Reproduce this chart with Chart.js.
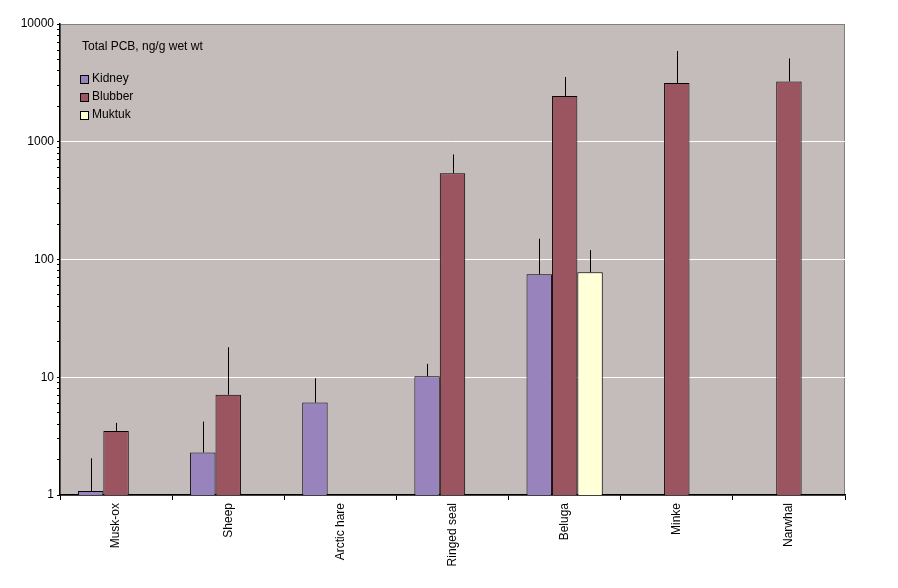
<!DOCTYPE html>
<html>
<head>
<meta charset="utf-8">
<script src="https://cdn.jsdelivr.net/npm/chart.js@4"></script>
<style>
  body { margin: 0; background: #fff; }
  #wrap { width: 898px; height: 588px; }
</style>
</head>
<body>
<div id="wrap"><canvas id="c"></canvas></div>
<script>
// Data
const categories = ['Musk-ox', 'Sheep', 'Arctic hare', 'Ringed seal', 'Beluga', 'Minke', 'Narwhal'];
const kidney = [1.08, 2.3, 6.1, 10.2, 75, null, null];
const kidneyHigh = [2.05, 4.2, 9.8, 13, 150, null, null];
const blubber = [3.5, 7.1, null, 540, 2450, 3150, 3250];
const blubberHigh = [4.1, 18, null, 780, 3550, 5900, 5100];
const muktuk = [null, null, null, null, 78, null, null];
const muktukHigh = [null, null, null, null, 120, null, null];
const majorTicks = [1, 10, 100, 1000, 10000];

const FONT = '"Liberation Sans", Arial, sans-serif';

// Upper error bars drawn through the scales
const errorBars = {
    id: 'errorBars',
    afterDatasetsDraw(chart) {
        const { ctx, scales: { y } } = chart;
        const highs = [kidneyHigh, blubberHigh, muktukHigh];
        ctx.save();
        ctx.strokeStyle = '#000';
        ctx.lineWidth = 1;
        chart.data.datasets.forEach((ds, i) => {
            chart.getDatasetMeta(i).data.forEach((bar, j) => {
                const hi = highs[i][j];
                if (hi == null || ds.data[j] == null) return;
                const x = Math.round(bar.x) + 0.5;
                ctx.beginPath();
                ctx.moveTo(x, bar.y);
                ctx.lineTo(x, y.getPixelForValue(hi));
                ctx.stroke();
            });
        });
        ctx.restore();
    }
};

// Legend inside the plot, top-left
const innerLegend = {
    id: 'innerLegend',
    afterDraw(chart) {
        const { ctx, chartArea } = chart;
        const x0 = chartArea.left + 20;
        ctx.save();
        ctx.font = '12px ' + FONT;
        ctx.fillStyle = '#000';
        ctx.textBaseline = 'middle';
        ctx.fillText('Total PCB, ng/g wet wt', x0 + 2, 47);
        chart.data.datasets.forEach((ds, i) => {
            const yy = 79 + i * 18;
            ctx.fillStyle = ds.backgroundColor;
            ctx.fillRect(x0, yy - 4, 8, 8);
            ctx.strokeStyle = '#000';
            ctx.strokeRect(x0 + 0.5, yy - 3.5, 8, 8);
            ctx.fillStyle = '#000';
            ctx.fillText(ds.label, x0 + 12, yy);
        });
        ctx.restore();
    }
};

const plotBg = {
    id: 'plotBg',
    beforeDraw(chart) {
        const { ctx, chartArea: a } = chart;
        ctx.save();
        ctx.fillStyle = '#C4BCBA';
        ctx.fillRect(a.left, a.top, a.right - a.left, a.bottom - a.top);
        ctx.strokeStyle = '#808080';
        ctx.strokeRect(a.left, a.top + 0.5, a.right - a.left - 0.5, a.bottom - a.top);
        ctx.restore();
    }
};

const mkSet = (label, data, color) => ({
    label, data,
    backgroundColor: color,
    borderColor: '#000',
    borderWidth: 1,
    borderSkipped: 'bottom',
    categoryPercentage: 0.68,
    barPercentage: 1
});

new Chart(document.getElementById('c'), {
    type: 'bar',
    data: {
        labels: categories,
        datasets: [
            mkSet('Kidney', kidney, '#9983BD'),
            mkSet('Blubber', blubber, '#9B5560'),
            mkSet('Muktuk', muktuk, '#FFFFD8')
        ]
    },
    options: {
        responsive: true,
        maintainAspectRatio: false,
        animation: false,
        layout: { padding: { top: 24, right: 53, left: 0, bottom: 0 } },
        plugins: { legend: { display: false }, tooltip: { enabled: false } },
        scales: {
            x: {
                afterFit: s => { s.height = 93; },
                grid: { offset: true, drawOnChartArea: false, color: '#000', tickLength: 5 },
                border: { color: '#000', width: 1.5 },
                ticks: { color: '#000', font: { family: FONT, size: 12 }, maxRotation: 90, minRotation: 90 }
            },
            y: {
                type: 'logarithmic',
                min: 1, max: 10000,
                afterFit: s => { s.width = 60; },
                afterBuildTicks: s => {
                    const t = [];
                    for (let d = 1; d < 10000; d *= 10)
                        for (let k = 1; k < 10; k++) t.push({ value: d * k });
                    t.push({ value: 10000 });
                    s.ticks = t;
                },
                grid: {
                    color: c => (majorTicks.includes(c.tick && c.tick.value) && c.tick.value !== 1 && c.tick.value !== 10000) ? '#FFFFFF' : 'rgba(0,0,0,0)',
                    tickColor: '#000',
                    tickLength: c => majorTicks.includes(c.tick && c.tick.value) ? 5 : 3,
                    lineWidth: 1
                },
                border: { color: '#000', width: 1.5 },
                ticks: {
                    color: '#000',
                    autoSkip: false,
                    font: { family: FONT, size: 12 },
                    callback: v => majorTicks.includes(v) ? String(v) : ''
                }
            }
        }
    },
    plugins: [plotBg, errorBars, innerLegend]
});
</script>
</body>
</html>
